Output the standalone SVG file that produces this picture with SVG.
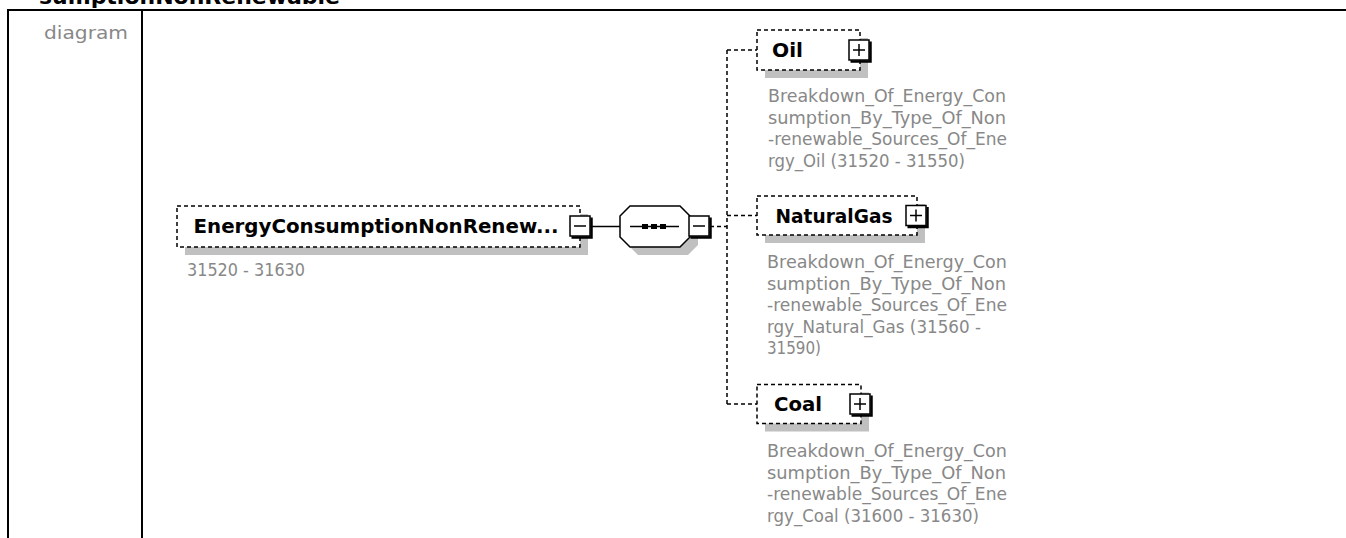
<svg xmlns="http://www.w3.org/2000/svg" width="1346" height="538" viewBox="0 0 1346 538">
<style>
.frame{stroke:#000;stroke-width:2;fill:none}
.shadow{fill:#c0c0c0;stroke:none}
.box{fill:#fff;stroke:#000;stroke-width:1.5;stroke-dasharray:4 3}
.solid{fill:#fff;stroke:#000;stroke-width:1.5}
.dash{fill:none;stroke:#000;stroke-width:1.5;stroke-dasharray:4 3}
.line{fill:none;stroke:#000;stroke-width:1.5}
.sh{fill:none;stroke:#000;stroke-width:2.5}
.name{font-family:"DejaVu Sans",sans-serif;font-weight:bold;font-size:19px;fill:#000}
.gray{font-family:"DejaVu Sans",sans-serif;font-size:17px;fill:#888}
.hdr{font-family:"DejaVu Sans",sans-serif;font-weight:bold;font-size:22px;fill:#000}
.lbl{font-family:"DejaVu Sans",sans-serif;font-size:18px;fill:#888}
</style>
<defs>
<g id="minus">
<rect class="solid" x="-10" y="-10" width="20" height="20"/>
<path class="sh" d="M-8.5 11.5H11.5V-8.5"/>
<path class="line" d="M-6 0H6"/>
</g>
<g id="plus">
<rect class="solid" x="-10" y="-10" width="20" height="20"/>
<path class="sh" d="M-8.5 11.5H11.5V-8.5"/>
<path class="line" d="M-6 0H6M0 -6V6"/>
</g>
</defs>
<rect width="1346" height="538" fill="#fff"/>
<g id="frame">
<text class="hdr" x="39" y="4" textLength="301" lengthAdjust="spacingAndGlyphs">sumptionNonRenewable</text>
<path class="frame" d="M8 538V10H1346M142 10V538"/>
<text class="lbl" x="44" y="39" textLength="84" lengthAdjust="spacingAndGlyphs">diagram</text>
</g>
<g id="connectors">
<path class="line" d="M591 226.5H620"/>
<path class="dash" d="M710 226.5H727M727 50V404M727 50H757M727 215.5H757M727 404H757"/>
</g>
<g id="node-main">
<rect class="shadow" x="185" y="214" width="403" height="41"/>
<rect class="box" x="177" y="206" width="403" height="41"/>
<text class="name" x="193.5" y="233" textLength="365" lengthAdjust="spacingAndGlyphs">EnergyConsumptionNonRenew...</text>
<use href="#minus" x="580" y="226"/>
<text class="gray" x="187" y="276" textLength="118" lengthAdjust="spacingAndGlyphs">31520 - 31630</text>
</g>
<g id="sequence">
<polygon class="shadow" points="638,214 688,214 698,224 698,245 688,255 638,255 628,245 628,224"/>
<polygon class="solid" points="630,206 680,206 690,216 690,237 680,247 630,247 620,237 620,216"/>
<path class="line" d="M630 226.5H679"/>
<rect x="642" y="224" width="6" height="5" fill="#000"/>
<rect x="651" y="224" width="6" height="5" fill="#000"/>
<rect x="660" y="224" width="6" height="5" fill="#000"/>
<use href="#minus" x="699" y="226"/>
</g>
<g id="node-oil">
<rect class="shadow" x="765" y="38" width="103" height="40"/>
<rect class="box" x="757" y="30" width="103" height="40"/>
<text class="name" x="772" y="57" textLength="31" lengthAdjust="spacingAndGlyphs">Oil</text>
<use href="#plus" x="859" y="50"/>
<text class="gray" x="768" y="102" textLength="238" lengthAdjust="spacingAndGlyphs">Breakdown_Of_Energy_Con</text>
<text class="gray" x="768" y="123.5" textLength="238" lengthAdjust="spacingAndGlyphs">sumption_By_Type_Of_Non</text>
<text class="gray" x="768" y="145" textLength="239" lengthAdjust="spacingAndGlyphs">-renewable_Sources_Of_Ene</text>
<text class="gray" x="768" y="166.5" textLength="197" lengthAdjust="spacingAndGlyphs">rgy_Oil (31520 - 31550)</text>
</g>
<g id="node-naturalgas">
<rect class="shadow" x="765" y="204" width="160" height="39"/>
<rect class="box" x="757" y="196" width="160" height="39"/>
<text class="name" x="775.5" y="222.5" textLength="117" lengthAdjust="spacingAndGlyphs">NaturalGas</text>
<use href="#plus" x="916" y="215.5"/>
<text class="gray" x="767" y="268" textLength="240" lengthAdjust="spacingAndGlyphs">Breakdown_Of_Energy_Con</text>
<text class="gray" x="767" y="289.5" textLength="239" lengthAdjust="spacingAndGlyphs">sumption_By_Type_Of_Non</text>
<text class="gray" x="767" y="311" textLength="240" lengthAdjust="spacingAndGlyphs">-renewable_Sources_Of_Ene</text>
<text class="gray" x="767" y="332.5" textLength="214" lengthAdjust="spacingAndGlyphs">rgy_Natural_Gas (31560 -</text>
<text class="gray" x="767" y="354" textLength="54" lengthAdjust="spacingAndGlyphs">31590)</text>
</g>
<g id="node-coal">
<rect class="shadow" x="765" y="392.5" width="104" height="39"/>
<rect class="box" x="757" y="384.5" width="104" height="39"/>
<text class="name" x="774" y="411" textLength="48" lengthAdjust="spacingAndGlyphs">Coal</text>
<use href="#plus" x="860" y="404"/>
<text class="gray" x="767" y="457" textLength="240" lengthAdjust="spacingAndGlyphs">Breakdown_Of_Energy_Con</text>
<text class="gray" x="767" y="478.5" textLength="239" lengthAdjust="spacingAndGlyphs">sumption_By_Type_Of_Non</text>
<text class="gray" x="767" y="500" textLength="240" lengthAdjust="spacingAndGlyphs">-renewable_Sources_Of_Ene</text>
<text class="gray" x="767" y="521.5" textLength="212" lengthAdjust="spacingAndGlyphs">rgy_Coal (31600 - 31630)</text>
</g>
</svg>
